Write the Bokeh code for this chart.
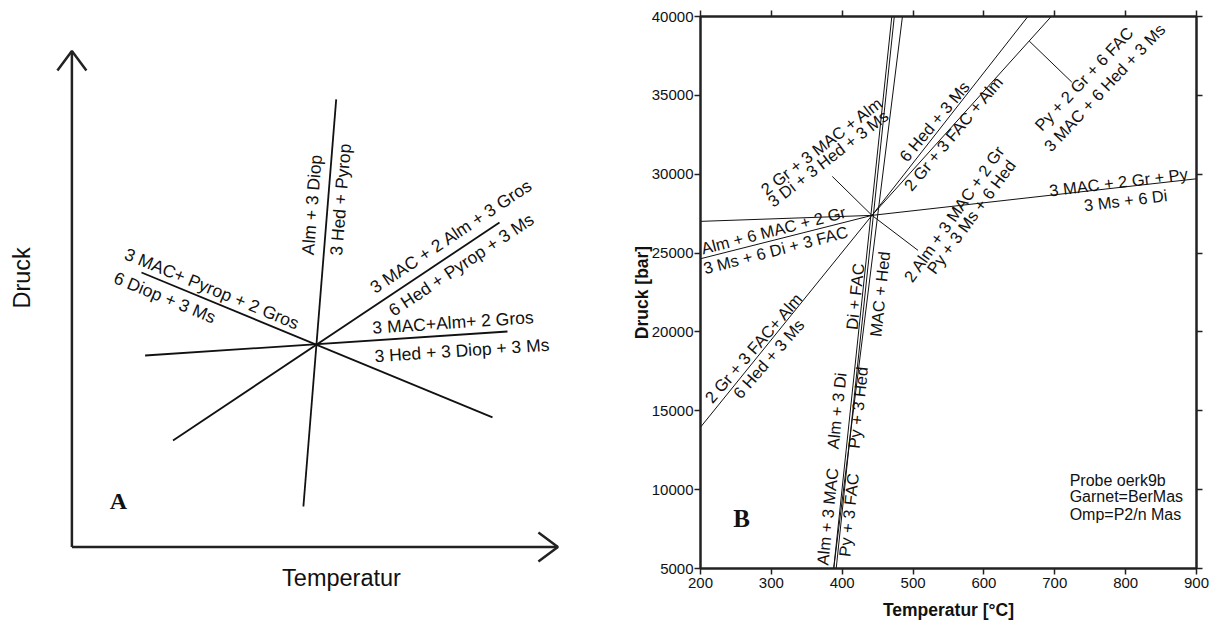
import numpy as np
from bokeh.plotting import figure
from bokeh.models import Range1d, LinearAxis, FixedTicker, CustomLabelingPolicy
from bokeh.layouts import row
from bokeh.embed import file_html
from bokeh.resources import INLINE
from bokeh.core.properties import value

FONT = "Liberation Sans"
SERIF = "Liberation Serif"

# ---------------- Panel A: schematic (arbitrary units) ----------------
a_axis_T_len = 486
a_axis_P_len = 496
a_line_x0 = [231.5, 69.6, 73.2, 101.1]
a_line_y0 = [40.4, 274.4, 191.4, 106.4]
a_line_x1 = [264.3, 420.6, 435.6, 427.6]
a_line_y1 = [447.5, 129.6, 215.4, 324.4]

a_labels = ["Alm + 3 Diop", "3 Hed + Pyrop",
            "3 MAC + 2 Alm + 3 Gros", "6 Hed + Pyrop + 3 Ms",
            "3 MAC+ Pyrop + 2 Gros", "6 Diop + 3 Ms",
            "3 MAC+Alm+ 2 Gros", "3 Hed + 3 Diop + 3 Ms"]
a_label_x = [240.0, 268.6, 379.3, 389.3, 140.0, 92.9, 381.1, 390.0]
a_label_y = [342.1, 347.4, 310.7, 282.1, 258.2, 249.4, 224.4, 196.4]
a_label_angle = [85.4, 85.4, 33.7, 33.7, -22.4, -22.4, 3.8, 3.8]

# ---------------- Panel B: data ----------------
x_ticks = [200, 300, 400, 500, 600, 700, 800, 900]
y_ticks = [5000, 10000, 15000, 20000, 25000, 30000, 35000, 40000]

inv_T, inv_P = 442, 27390
ray_end_T = [200, 200, 900, 200, 662, 695, 386, 507]
ray_end_P = [27010, 24640, 29710, 13960, 40000, 40000, 29860, 25170]

vert_T0 = [388, 391.5, 388]
vert_P0 = [5000, 5000, 5000]
vert_T1 = [470, 473.5, 485]
vert_P1 = [40000, 40000, 40000]

leader_T0, leader_P0 = [664], [38440]
leader_T1, leader_P1 = [724], [35840]

b_labels = ["2 Gr + 3 MAC + Alm", "3 Di + 3 Hed + 3 Ms",
            "6 Hed + 3 Ms", "2 Gr + 3 FAC + Alm",
            "Py + 2 Gr + 6 FAC", "3 MAC + 6 Hed + 3 Ms",
            "2 Alm + 3 MAC + 2 Gr", "Py + 3 Ms + 6 Hed",
            "3 MAC + 2 Gr + Py", "3 Ms + 6 Di",
            "Alm + 6 MAC + 2 Gr", "3 Ms + 6 Di + 3 FAC",
            "2 Gr + 3 FAC+ Alm", "6 Hed + 3 Ms",
            "Alm + 3 MAC", "Py + 3 FAC",
            "Alm + 3 Di", "Py + 3 Hed",
            "Di + FAC", "MAC + Hed"]
b_label_T = [371, 380, 530, 557, 741, 770, 558, 582, 790, 800,
             303, 306, 275, 296, 379, 409, 392, 422, 418, 453]
b_label_P = [31800, 31000, 33350, 32600, 36050, 35500, 27500, 27300, 29500, 28350,
             26450, 25200, 19000, 18300, 8300, 8400, 15000, 15200, 22250, 22400]
b_label_angle = [37.6, 37.6, 50, 50, 46.7, 46.7, 55, 53.5, 7, 7,
                 14.5, 14.5, 49, 49, 84, 84, 84, 84, 84, 84]

info_lines = ["Probe oerk9b", "Garnet=BerMas", "Omp=P2/n Mas"]
info_T = [721, 721, 721]
info_P = [10600, 9540, 8420]

# ---------------- Panel A figure ----------------
pA = figure(width=620, height=626, x_range=Range1d(-71.4, 548.6),
            y_range=Range1d(-79.6, 546.4), output_backend="svg",
            toolbar_location=None, x_axis_location=None, y_axis_location=None,
            min_border=0)
pA.frame_align = False
pA.grid.visible = False
pA.outline_line_color = None
AX_C = "#222222"
pA.segment(x0=[0, 0], y0=[0, 0], x1=[a_axis_T_len, 0], y1=[0, a_axis_P_len],
           line_color=AX_C, line_width=2.5)
hw, hl = 14.5, 19.5
pA.multi_line(xs=[[-hw, 0, hw], [a_axis_T_len - hl, a_axis_T_len, a_axis_T_len - hl]],
              ys=[[a_axis_P_len - hl, a_axis_P_len, a_axis_P_len - hl], [hw, 0, -hw]],
              line_color=AX_C, line_width=2.5)
pA.segment(x0=a_line_x0, y0=a_line_y0, x1=a_line_x1, y1=a_line_y1,
           line_color="#111111", line_width=1.8)
pA.text(x=a_label_x, y=a_label_y, text=a_labels, angle=a_label_angle, angle_units="deg",
        text_align="center", text_baseline="middle", text_font=value(FONT),
        text_font_size="17.5px", text_color="#111111")
pA.text(x=[-50], y=[269], text=["Druck"], angle=[90], angle_units="deg",
        text_align="center", text_baseline="middle", text_font=value(FONT),
        text_font_size="23.5px", text_color="#111111")
pA.text(x=[269.6], y=[-31], text=["Temperatur"], text_align="center",
        text_baseline="middle", text_font=value(FONT), text_font_size="23.5px",
        text_color="#111111")
pA.text(x=[46.6], y=[45.7], text=["A"], text_align="center", text_baseline="middle",
        text_font=value(SERIF), text_font_style="bold", text_font_size="24px",
        text_color="#111111")

# ---------------- Panel B figure ----------------
pB = figure(width=608, height=626, x_range=Range1d(200, 900), y_range=Range1d(5000, 40000),
            output_backend="svg", toolbar_location=None,
            min_border_left=80, min_border_right=32, min_border_top=16, min_border_bottom=58)
pB.frame_align = False
pB.grid.visible = False
pB.outline_line_color = "#222222"
pB.outline_line_width = 2

for ax in (pB.xaxis[0], pB.yaxis[0]):
    ax.major_label_text_font = FONT
    ax.major_label_text_font_size = "15px"
    ax.major_label_text_color = "#111111"
    ax.axis_label_text_font = FONT
    ax.axis_label_text_font_style = "bold"
    ax.axis_label_text_font_size = "17.5px"
    ax.axis_label_text_color = "#111111"
    ax.major_tick_in = 0
    ax.major_tick_out = 6
    ax.minor_tick_in = 0
    ax.minor_tick_out = 0
    ax.axis_line_width = 2
    ax.axis_line_color = AX_C
    ax.major_tick_line_width = 1.5
    ax.major_tick_line_color = AX_C

pB.xaxis.ticker = FixedTicker(ticks=x_ticks)
pB.yaxis.ticker = FixedTicker(ticks=y_ticks)
pB.xaxis.axis_label = "Temperatur [°C]"
pB.yaxis.axis_label = "Druck [bar]"
pB.xaxis.major_label_standoff = 3
pB.xaxis.axis_label_standoff = 9
pB.yaxis.major_label_standoff = 1
pB.yaxis.axis_label_standoff = -3

hide_all = "for (const i of indices) indices.unset(i)"
top_ax = LinearAxis(ticker=FixedTicker(ticks=x_ticks), major_label_text_font_size="8px",
                    major_label_policy=CustomLabelingPolicy(code=hide_all),
                    major_tick_in=0, major_tick_out=6, minor_tick_out=0, minor_tick_in=0,
                    major_label_standoff=0, axis_line_width=2, axis_line_color=AX_C,
                    major_tick_line_width=1.5, major_tick_line_color=AX_C)
right_ax = LinearAxis(ticker=FixedTicker(ticks=y_ticks), major_label_text_font_size="8px",
                      major_label_policy=CustomLabelingPolicy(code=hide_all),
                      major_tick_in=0, major_tick_out=6, minor_tick_out=0, minor_tick_in=0,
                      major_label_standoff=0, axis_line_width=2, axis_line_color=AX_C,
                      major_tick_line_width=1.5, major_tick_line_color=AX_C)
pB.add_layout(top_ax, "above")
pB.add_layout(right_ax, "right")

LC = "#111111"
n = len(ray_end_T)
pB.segment(x0=[inv_T] * n, y0=[inv_P] * n, x1=ray_end_T, y1=ray_end_P,
           line_color=LC, line_width=1)
pB.segment(x0=vert_T0, y0=vert_P0, x1=vert_T1, y1=vert_P1, line_color=LC, line_width=1)
pB.segment(x0=leader_T0, y0=leader_P0, x1=leader_T1, y1=leader_P1, line_color=LC, line_width=1)

pB.text(x=b_label_T, y=b_label_P, text=b_labels, angle=b_label_angle, angle_units="deg",
        text_align="center", text_baseline="middle", text_font=value(FONT),
        text_font_size="16.5px", text_color="#111111")
pB.text(x=info_T, y=info_P, text=info_lines, text_align="left", text_baseline="middle",
        text_font=value(FONT), text_font_size="16px", text_color="#111111")
pB.text(x=[258], y=[8200], text=["B"], text_align="center", text_baseline="middle",
        text_font=value(SERIF), text_font_style="bold", text_font_size="25px",
        text_color="#111111")

layout = row(pA, pB)
open("out.html", "w").write(file_html(layout, INLINE))
